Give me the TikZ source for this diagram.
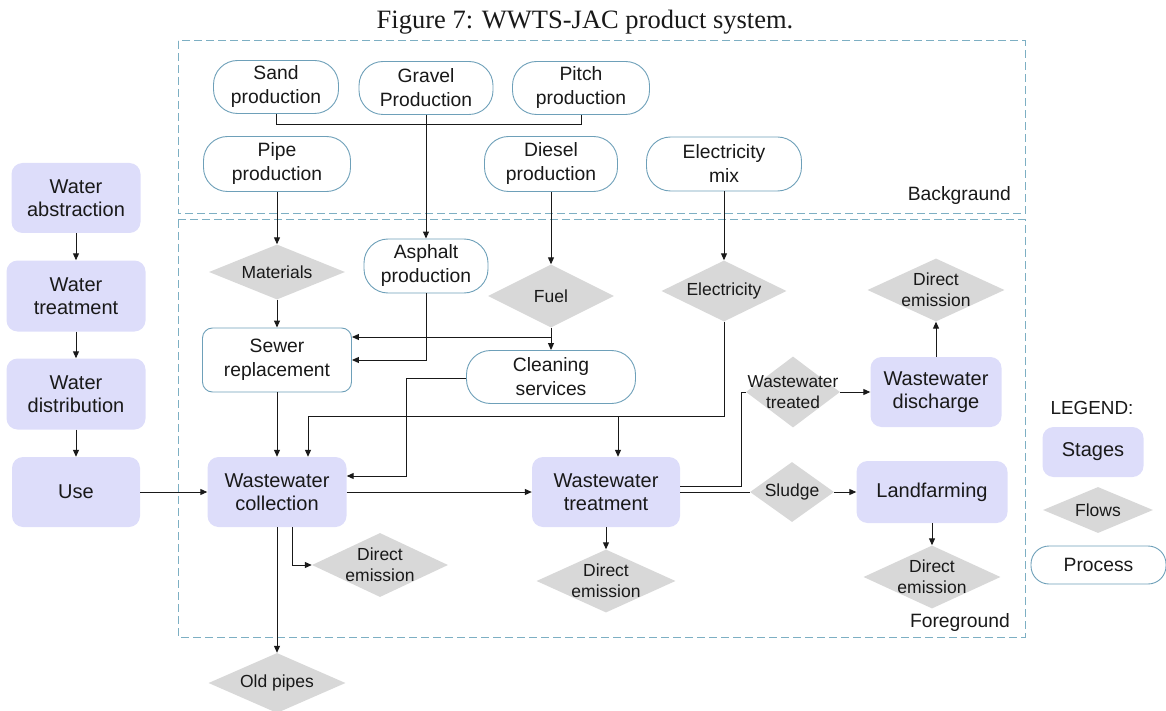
\documentclass[tikz,border=0pt]{standalone}
\usepackage{fontspec}
\setmainfont{Liberation Serif}
\setsansfont{Liberation Sans}
\usetikzlibrary{shapes.geometric,arrows.meta}
\definecolor{stagefill}{RGB}{221,221,250}
\definecolor{flowfill}{RGB}{216,216,216}
\definecolor{procline}{RGB}{110,160,185}
\definecolor{boxdash}{RGB}{125,175,195}
\definecolor{ink}{RGB}{25,25,25}

\begin{document}
\begin{tikzpicture}[x=1pt,y=-1pt,
  every node/.style={text=ink},
  stage/.style={rectangle, rounded corners=11pt, fill=stagefill, align=center,
    inner sep=0pt, font=\sffamily\fontsize{20}{22.5}\selectfont},
  proc/.style={rectangle, rounded corners=24pt, draw=procline, line width=0.9pt,
    fill=white, align=center, inner sep=0pt, font=\sffamily\fontsize{19.3}{24}\selectfont},
  flow/.style={diamond, fill=flowfill, inner sep=0pt},
  flowtext/.style={align=center, inner sep=0pt, text=ink,
    font=\sffamily\fontsize{17.5}{21}\selectfont},
  plain/.style={inner sep=0pt, font=\sffamily\fontsize{19.3}{24}\selectfont},
  conn/.style={line width=1pt, draw=ink},
  arr/.style={conn, -{Triangle[length=7pt,width=6pt]}},
  region/.style={draw=boxdash, line width=1pt, dash pattern=on 8pt off 4pt},
]
\useasboundingbox (0,0) rectangle (1166,711);

% title
\node[font=\rmfamily\fontsize{26.5}{30}\selectfont, anchor=base] (title) at (585,29)
  {Figure 7: WWTS-JAC product system.};

% background / foreground regions
\draw[region] (178,41) rectangle (1025,214);
\draw[region] (178,220) rectangle (1025,637);
\node[plain, anchor=east] (bglabel) at (1011,196) {Backgraund};
\node[plain, anchor=east] (fglabel) at (1010,623) {Foreground};

% upstream water stages
\node[stage, minimum width=129pt, minimum height=70pt] (wabs) at (76,198) {Water\\abstraction};
\node[stage, minimum width=139pt, minimum height=71pt] (wtre) at (76,296) {Water\\treatment};
\node[stage, minimum width=139pt, minimum height=71pt] (wdis) at (76,394) {Water\\distribution};
\node[stage, minimum width=128pt, minimum height=70pt] (use)  at (76,492) {Use};

% background processes
\node[proc, minimum width=125pt, minimum height=53pt] (sandprod)   at (276,87)  {Sand\\production};
\node[proc, minimum width=134pt, minimum height=53pt] (gravelprod) at (426,88)  {Gravel\\Production};
\node[proc, minimum width=137pt, minimum height=53pt] (pitchprod)  at (581,88)  {Pitch\\production};
\node[proc, minimum width=147pt, minimum height=55pt] (pipeprod)   at (277,164) {Pipe\\production};
\node[proc, minimum width=133pt, minimum height=55pt] (dieselprod) at (551,164) {Diesel\\production};
\node[proc, minimum width=155pt, minimum height=54pt] (elmix)      at (724,164) {Electricity\\mix};

% foreground processes
\node[proc, minimum width=124pt, minimum height=54pt] (asph)  at (426,266) {Asphalt\\production};
\node[proc, minimum width=169pt, minimum height=53pt] (clean) at (551,377) {Cleaning\\services};
\node[proc, rounded corners=10pt, minimum width=149pt, minimum height=64pt] (sewer) at (277,360) {Sewer\\replacement};

% foreground stages
\node[stage, minimum width=139pt, minimum height=70pt] (coll)  at (277,492) {Wastewater\\collection};
\node[stage, minimum width=148pt, minimum height=70pt] (treat) at (606,492) {Wastewater\\treatment};
\node[stage, minimum width=131pt, minimum height=70pt] (disch) at (936,392) {Wastewater\\discharge};
\node[stage, minimum width=151pt, minimum height=62pt] (land)  at (932,492) {Landfarming};

% flows
\node[flow, minimum width=136pt, minimum height=55pt, label={[flowtext]center:Materials}] (mat) at (277,272) {};
\node[flow, minimum width=126pt, minimum height=63pt, label={[flowtext]center:Fuel}] (fuel) at (551,296) {};
\node[flow, minimum width=125pt, minimum height=61pt, label={[flowtext]center:Electricity}] (elec) at (724,291) {};
\node[flow, minimum width=137pt, minimum height=63pt, label={[flowtext]center:Direct\\emission}] (deDis) at (936,290) {};
\node[flow, minimum width=94pt, minimum height=71pt, label={[flowtext, font=\sffamily\fontsize{17.3}{21}\selectfont]center:Wastewater\\treated}] (wwt) at (793,392) {};
\node[flow, minimum width=84pt, minimum height=60pt, label={[flowtext]center:Sludge}] (sludge) at (792,492) {};
\node[flow, minimum width=136pt, minimum height=64pt, label={[flowtext]center:Direct\\emission}] (deColl) at (380,565) {};
\node[flow, minimum width=139pt, minimum height=63pt, label={[flowtext]center:Direct\\emission}] (deTreat) at (606,581) {};
\node[flow, minimum width=137pt, minimum height=63pt, label={[flowtext]center:Direct\\emission}] (deLand) at (932,577) {};
\node[flow, minimum width=137pt, minimum height=60pt, label={[flowtext]center:Old pipes}] (old) at (277,683) {};

% legend
\node[plain, font=\sffamily\fontsize{18.9}{22}\selectfont] (legend) at (1092,408) {LEGEND:};
\node[stage, minimum width=101pt, minimum height=50pt] (lgStage) at (1093,452) {Stages};
\node[flow, minimum width=110pt, minimum height=46pt, label={[flowtext]center:Flows}] (lgFlow) at (1098,510) {};
\node[proc, rounded corners=18pt, minimum width=135pt, minimum height=38pt] (lgProc) at (1098.5,565) {Process};

% junctions and bends
\coordinate (rawjoin) at (426,125);
\coordinate (sandbend) at (276,125);
\coordinate (pitchbend) at (581,125);
\coordinate (fuelsplit) at (551,337);
\coordinate (asphbend) at (426,360);
\coordinate (cleanbend) at (406,476);
\coordinate (elbend) at (724,416);
\coordinate (elToColl) at (308,416);
\coordinate (elToTreat) at (618,416);

% water chain
\draw[arr] (wabs) -- (wtre);
\draw[arr] (wtre) -- (wdis);
\draw[arr] (wdis) -- (use);
\draw[arr] (use) -- (coll);

% raw materials for asphalt
\draw[conn] (sandprod.south) -- (sandbend) -- (rawjoin);
\draw[conn] (pitchprod.south) -- (pitchbend) -- (rawjoin);
\draw[arr] (gravelprod.south) -- (asph.north);

% background to foreground
\draw[arr] (pipeprod.south) -- (mat.north);
\draw[arr] (dieselprod.south) -- (fuel.north);
\draw[arr] (elmix.south) -- (elec.north);

% inputs to sewer replacement and cleaning
\draw[arr] (mat.south) -- (sewer.north);
\draw[arr] (fuel.south) -- (clean.north);
\draw[arr] (fuelsplit) -- (sewer.east |- fuelsplit);
\draw[arr] (asph.south) -- (asphbend) -- (sewer.east |- asphbend);
\draw[arr] (sewer.south) -- (coll.north);
\draw[arr] (clean.west |- 0,378) -| (cleanbend) -- (coll.east |- cleanbend);

% electricity supply
\draw[conn] (elec.south) -- (elbend) -- (elToColl);
\draw[arr] (elToColl) -- (elToColl |- coll.north);
\draw[arr] (elToTreat) -- (elToTreat |- treat.north);

% collection outputs
\draw[arr] (coll.east) -- (treat.west);
\draw[arr] (coll.south) -- (old.north);
\draw[arr] ([xshift=15pt]coll.south) |- (deColl.west);

% treatment outputs
\draw[conn] ([yshift=6pt]treat.east) -| ([xshift=-4pt]wwt.west) -- (wwt.west);
\draw[conn] (treat.east) -- (sludge.west);
\draw[arr] (treat.south) -- (deTreat.north);
\draw[arr] (wwt.east) -- (disch.west);
\draw[arr] (sludge.east) -- (land.west);
\draw[arr] (disch.north) -- (deDis.south);
\draw[arr] (land.south) -- (deLand.north);
\end{tikzpicture}
\end{document}
